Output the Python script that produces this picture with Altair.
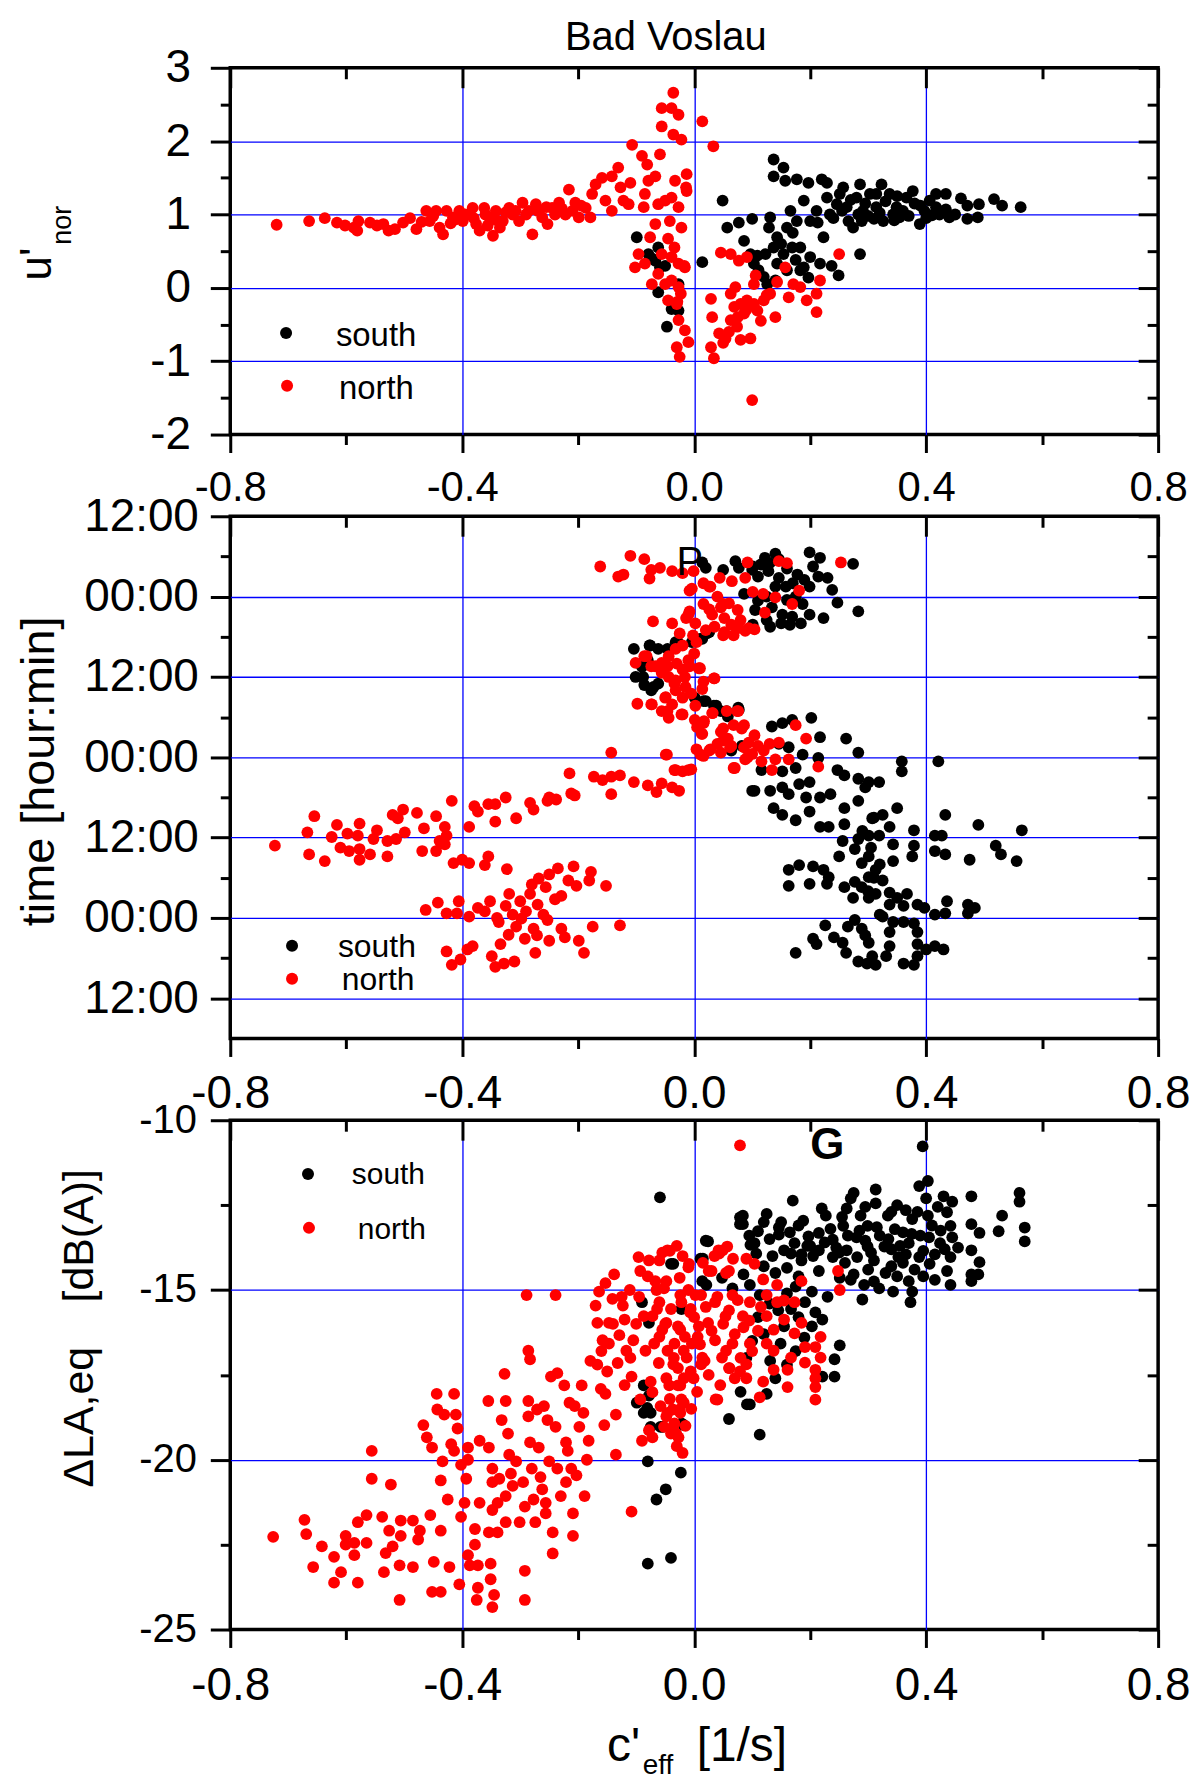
import altair as alt
import pandas as pd

FONT = "Liberation Sans"
BLUE = "#0000ff"

# ---------------- data ----------------
# panel 1: u'_nor vs c'_eff
p1_south = [(-0.099,0.69),(-0.079,0.46),(-0.067,0.37),(-0.062,0.55),(-0.059,0.28),(-0.062,-0.06),(-0.039,-0.29),(-0.027,-0.31),(-0.047,-0.53),(-0.027,0.05),(-0.073,0.40),(-0.050,0.30),
(0.014,0.35),(0.049,1.19),(0.057,0.82),(0.077,0.89),(0.100,0.94),(0.086,0.64),(0.097,0.46),(0.103,0.33),(0.111,0.24),(0.126,0.05),(0.137,1.75),(0.154,1.64),(0.137,1.52),(0.157,1.46),(0.177,1.48),(0.197,1.43),(0.220,1.48),(0.229,1.43),(0.131,0.96),(0.129,0.82),(0.143,0.69),(0.137,0.55),(0.143,0.33),(0.154,0.46),(0.160,0.82),(0.166,1.05),(0.177,0.91),(0.169,0.55),(0.183,0.24),(0.197,0.14),(0.200,0.42),(0.217,0.33),(0.237,0.30),(0.249,0.17),(0.189,1.19),(0.200,0.91),(0.211,1.05),(0.229,1.23),(0.223,0.69),(0.234,1.00),(0.246,1.14),(0.257,1.37),(0.263,1.10),(0.274,0.82),(0.286,1.41),(0.280,1.23),(0.291,1.05),(0.303,1.28),(0.314,1.10),(0.323,1.41),(0.326,0.91),(0.337,1.28),(0.349,1.10),(0.354,0.96),(0.366,1.23),(0.377,1.32),(0.389,0.87),(0.397,1.05),(0.406,1.19),(0.417,1.28),(0.423,1.00),(0.434,1.28),(0.434,1.07),(0.440,0.96),(0.471,1.12),(0.471,0.94),(0.489,0.96),(0.491,1.14),(0.517,1.21),(0.531,1.12),(0.563,1.10),(0.286,0.46),(0.289,0.91),(0.266,0.91),(0.251,1.28),(0.314,1.28),(0.343,1.00),(0.417,1.10),(0.183,0.55),(0.160,0.24),(0.189,0.28),(0.123,0.46),(0.109,0.44),
(0.300,0.98),(0.320,1.02),(0.360,1.05),(0.380,1.15),(0.400,0.95),(0.270,1.20),(0.295,1.15),(0.330,1.18),(0.350,1.25),(0.390,1.12),(0.410,0.99),(0.450,1.00),(0.460,1.22),(0.240,0.95),(0.255,1.05),(0.345,0.92),(0.370,0.98),(0.310,0.94),(0.283,1.00),(0.213,0.89),(0.170,0.75),(0.150,0.60),(0.120,0.15),(0.140,0.10),(0.175,0.38)]

p1_north = [(-0.720,0.86),(-0.664,0.91),(-0.637,0.95),(-0.616,0.89),(-0.602,0.85),(-0.587,0.82),(-0.579,0.91),(-0.581,0.78),(-0.559,0.89),(-0.547,0.85),(-0.536,0.87),(-0.527,0.78),(-0.516,0.80),(-0.502,0.89),(-0.479,0.80),(-0.462,1.05),(-0.456,0.91),(-0.445,1.05),(-0.439,0.82),(-0.433,0.73),(-0.427,1.05),(-0.416,0.96),(-0.405,1.05),(-0.399,0.91),(-0.387,1.00),(-0.382,1.09),(-0.376,0.87),(-0.370,0.78),(-0.362,1.09),(-0.353,0.96),(-0.347,0.71),(-0.342,1.05),(-0.330,0.91),(-0.319,1.09),(-0.313,1.00),(-0.302,0.91),(-0.296,1.16),(-0.285,1.05),(-0.279,0.73),(-0.273,1.14),(-0.262,0.96),(-0.253,0.87),(-0.245,1.09),(-0.233,1.16),(-0.222,1.00),(-0.216,1.34),(-0.205,1.16),(-0.199,0.96),(-0.187,1.09),(-0.179,0.96),(-0.176,1.28),(-0.170,1.41),(-0.159,1.50),(-0.153,1.19),(-0.142,1.05),(-0.142,1.52),(-0.131,1.64),(-0.127,1.37),(-0.122,1.19),(-0.110,1.43),(-0.113,1.14),(-0.107,1.95),(-0.090,1.80),(-0.081,1.68),(-0.085,1.28),(-0.087,1.10),(-0.079,1.46),(-0.067,1.52),(-0.059,1.82),(-0.062,1.14),(-0.056,2.20),(-0.056,2.45),(-0.036,2.66),(-0.039,2.45),(-0.027,2.36),(-0.036,2.09),(-0.022,2.02),(-0.033,1.46),(-0.013,1.55),(-0.013,1.32),(-0.039,1.23),(-0.050,1.19),(-0.027,1.10),(-0.042,0.91),(-0.067,0.87),(-0.022,0.82),(-0.076,0.69),(-0.045,0.67),(-0.096,0.46),(-0.102,0.28),(-0.085,0.33),(-0.056,0.46),(-0.039,0.42),(-0.027,0.33),(-0.016,0.28),(-0.073,0.05),(-0.062,0.19),(-0.050,0.05),(-0.039,0.10),(-0.027,0.01),(-0.045,-0.17),(-0.030,-0.22),(-0.027,-0.44),(-0.016,-0.58),(-0.010,-0.74),(-0.030,-0.81),(-0.025,-0.94),(-0.023,-0.08),(-0.029,-0.19),(-0.017,0.30),(-0.034,0.55),(-0.014,1.37),
(-0.490,0.95),(-0.470,0.90),(-0.450,0.98),(-0.420,0.88),(-0.395,1.00),(-0.380,0.95),(-0.360,1.00),(-0.340,0.92),(-0.325,1.03),(-0.308,1.05),(-0.290,1.00),(-0.270,1.05),(-0.255,1.10),(-0.240,1.00),(-0.228,1.08),(-0.210,1.05),(-0.195,1.12),(-0.412,0.93),(-0.356,0.85),(-0.335,0.82),
(0.014,2.27),(0.033,1.93),(0.046,0.48),(0.063,0.46),(0.077,0.37),(0.091,0.42),(0.103,0.05),(0.106,0.17),(0.029,-0.15),(0.031,-0.40),(0.063,-0.08),(0.071,0.01),(0.069,-0.26),(0.080,-0.22),(0.091,-0.17),(0.086,-0.35),(0.103,-0.22),(0.109,-0.31),(0.120,-0.17),(0.131,-0.08),(0.140,-0.40),(0.143,0.08),(0.157,0.28),(0.163,-0.13),(0.171,0.05),(0.183,0.01),(0.194,-0.17),(0.211,-0.08),(0.217,0.10),(0.211,-0.33),(0.250,0.46),(0.043,-0.62),(0.054,-0.69),(0.029,-0.81),(0.034,-0.96),(0.080,-0.71),(0.097,-0.69),(0.063,-0.44),(0.074,-0.53),(0.100,-1.53),(0.090,-0.30),(0.075,-0.40),(0.060,-0.60),(0.115,-0.45),(0.125,-0.10),(0.050,-0.75)]

# panel 2: time (hours from the bottom edge) vs c'_eff
p2_south = [(0.014,71.1),(0.020,70.3),(0.050,70.0),(0.071,71.3),(0.077,70.3),(0.101,70.5),(0.122,71.8),(0.140,72.4),(0.146,71.6),(0.199,72.6),(0.217,71.8),(0.274,70.9),(0.178,69.3),(0.214,69.0),(0.110,69.0),(0.128,69.8),(0.146,68.8),(0.158,67.5),(0.199,67.5),(0.238,67.0),(0.247,65.1),(0.283,63.8),(0.086,66.4),(0.110,65.4),(0.134,64.4),(0.152,63.3),(0.169,63.0),(0.184,62.0),(0.199,63.3),(0.223,62.8),(0.131,61.5),(0.101,61.8),(0.187,64.9),(0.140,67.5),(0.026,60.7),(0.014,59.7),(-0.004,59.2),(-0.028,59.2),(-0.046,58.2),(-0.076,58.7),
(0.100,70.0),(0.115,70.8),(0.130,71.0),(0.160,70.2),(0.170,68.0),(0.190,68.5),(0.205,70.5),(0.230,68.8),(0.175,66.0),(0.160,65.5),(0.125,66.0),(0.105,64.0),(0.125,62.5),(0.150,62.0),(0.165,61.8),
(-0.104,58.2),(-0.077,58.7),(-0.062,58.2),(-0.032,59.2),(0.022,60.5),(0.010,59.7),(-0.101,54.0),(-0.086,52.8),(-0.074,52.0),(-0.062,53.0),(0.001,50.9),(0.016,50.4),(0.034,49.7),(0.046,48.9),(0.058,48.1),(0.076,49.4),(0.064,43.0),(0.082,43.7),(0.100,37.0),(-0.088,54.0),(-0.070,52.5),(0.020,50.4),(0.038,49.7),(0.056,48.9),(0.077,49.1),(-0.090,55.5),(-0.080,56.5),
(0.134,46.6),(0.152,47.1),(0.169,47.6),(0.202,47.9),(0.217,45.0),(0.146,44.0),(0.163,43.5),(0.187,42.4),(0.214,41.9),(0.262,44.8),(0.283,42.7),(0.358,41.4),(0.358,39.9),(0.421,41.4),(0.116,40.1),(0.152,39.9),(0.175,40.4),(0.199,38.3),(0.247,40.1),(0.259,39.3),(0.283,38.8),(0.301,38.3),(0.319,38.3),(0.104,37.0),(0.131,37.0),(0.152,37.5),(0.181,38.0),(0.163,36.5),(0.193,36.0),(0.217,36.0),(0.235,36.5),(0.137,34.4),(0.152,33.4),(0.175,32.6),(0.199,33.9),(0.217,31.6),(0.232,31.6),(0.259,34.4),(0.283,35.5),(0.259,32.0),(0.307,32.9),(0.325,33.4),(0.350,34.4),(0.337,31.6),(0.256,29.5),(0.283,29.8),(0.301,30.3),(0.319,30.3),(0.343,29.0),(0.379,31.1),(0.379,28.8),(0.415,30.3),(0.433,33.4),(0.427,30.3),(0.490,31.9),(0.565,31.1),(0.520,28.8),(0.529,27.5),(0.415,28.0),(0.433,27.5),(0.475,26.7),(0.556,26.5),(0.376,27.2),(0.343,26.5),(0.250,27.2),(0.277,28.3),(0.289,26.2),(0.301,27.2),(0.313,25.2),(0.163,25.2),(0.181,25.9),(0.205,25.7),(0.223,25.2),(0.232,24.1),(0.163,22.8),(0.199,23.1),(0.229,23.1),(0.259,22.6),(0.277,23.4),(0.289,22.6),(0.301,24.1),(0.325,23.6),(0.274,21.0),(0.301,21.0),(0.313,21.6),(0.337,21.8),(0.337,20.0),(0.367,21.6),(0.361,19.8),(0.385,20.0),(0.397,19.5),(0.415,18.5),(0.433,18.7),(0.436,20.5),(0.472,20.0),(0.484,19.5),(0.472,18.7),(0.325,18.2),(0.343,17.4),(0.361,17.4),(0.379,17.2),(0.337,15.9),(0.289,16.4),(0.295,15.4),(0.301,14.3),(0.265,16.7),(0.277,17.7),(0.226,16.9),(0.241,15.1),(0.256,14.3),(0.205,14.9),(0.211,14.1),(0.175,12.8),(0.262,12.8),(0.283,11.5),(0.298,11.2),(0.313,11.0),(0.307,12.3),(0.331,12.3),(0.337,13.8),(0.361,11.2),(0.379,11.0),(0.385,12.3),(0.385,14.1),(0.400,13.3),(0.415,13.8),(0.430,13.3),(0.385,15.9),
(0.295,37.5),(0.310,33.0),(0.290,31.0),(0.305,28.5),(0.320,26.0),(0.310,24.0),(0.300,22.0),(0.350,21.0),(0.320,18.5)]

p2_north = [(-0.162,70.5),(-0.131,69.0),(-0.122,69.3),(-0.110,72.1),(-0.086,71.6),(-0.074,70.0),(-0.059,70.3),(-0.077,68.7),(-0.038,69.8),(-0.020,69.5),(-0.008,66.9),(0.016,68.0),(0.028,67.5),(-0.008,63.8),(-0.014,62.8),(0.016,64.9),(0.031,63.3),(0.046,64.4),(0.052,62.8),(0.052,60.7),(0.064,61.8),(0.076,61.3),(0.094,61.3),(-0.071,62.3),(-0.038,62.0),(-0.002,60.2),(0.004,59.2),(-0.020,58.7),(-0.032,58.2),(-0.044,57.1),(-0.056,56.1),(-0.086,57.1),(-0.101,56.1),(-0.074,55.6),(-0.056,54.6),(-0.044,54.0),(-0.032,53.5),(-0.020,55.1),(-0.008,55.6),(0.010,55.3),(0.034,53.8),(0.016,53.3),(-0.032,52.0),(-0.050,50.9),(-0.038,49.9),(-0.020,50.9),(-0.098,50.0),(-0.074,49.9),(-0.056,48.9),(-0.044,47.9),(-0.020,48.4),(0.001,47.6),(0.016,47.1),(0.031,48.6),(0.013,45.5),(0.046,45.8),(0.058,44.8),(0.076,48.9),(0.082,46.3),(0.004,43.2),(0.016,42.2),(0.028,43.2),(0.046,42.7),(0.064,43.7),(0.088,41.7),(0.070,40.4),(0.094,44.2),
(-0.001,69.8),(-0.004,67.2),(0.026,67.5),(0.044,68.8),(0.065,68.3),(0.088,68.8),(0.092,71.1),(0.146,71.3),(0.160,71.0),(0.253,71.1),(0.101,66.7),(0.119,66.4),(0.140,65.9),(0.169,64.9),(0.181,66.9),(0.122,63.6),(0.104,61.1),(0.088,60.9),(0.068,60.2),(0.050,60.2),(0.026,64.1),(0.050,64.9),(-0.010,63.3),(0.002,62.0),(0.008,55.3),(0.035,53.8),(0.014,52.2),(0.002,49.7),(0.032,48.6),(0.017,47.4),(0.014,45.5),(0.056,48.9),(0.074,48.9),(0.050,46.3),(0.068,46.8),(0.086,46.8),(0.104,45.3),(0.050,44.5),(0.062,43.5),(0.086,43.5),(0.110,43.7),(0.130,44.0),(0.146,44.2),(0.175,46.8),(0.193,44.8),(0.092,42.0),(0.116,41.4),(0.140,41.7),(0.163,41.7),(0.134,40.1),(0.214,40.6),(0.068,40.4),(0.011,42.4),(0.026,43.0),(-0.049,42.4),(-0.034,40.1),(-0.010,40.1),(-0.082,57.1),(-0.067,55.6),(-0.046,55.6),(-0.016,54.0),(-0.034,53.0),(-0.049,51.0),(-0.073,49.9),(-0.046,48.9),(-0.022,48.4),
(0.040,66.0),(0.060,65.0),(0.075,64.0),(0.080,62.5),(0.035,61.5),(0.020,61.0),(-0.025,60.5),(0.000,57.5),(-0.010,56.5),(-0.030,56.0),(-0.015,52.5),(-0.005,51.5),(0.005,46.5),(0.040,44.0),(0.100,42.5),(0.120,43.0),
(-0.143,42.7),(-0.047,42.4),(-0.032,40.1),(-0.020,39.9),(-0.005,40.2),(-0.038,37.5),(-0.026,37.0),(-0.056,38.1),(-0.065,36.8),(-0.080,37.8),(-0.104,38.3),(-0.128,39.3),(-0.143,39.1),(-0.143,36.5),(-0.158,38.6),(-0.173,39.1),(-0.215,39.6),(-0.206,36.3),(-0.212,36.6),(-0.250,36.0),(-0.238,35.7),(-0.253,35.5),(-0.283,35.2),(-0.277,34.2),(-0.325,36.0),(-0.307,32.9),(-0.343,35.0),(-0.343,32.4),(-0.355,35.0),(-0.373,33.9),(-0.379,34.7),(-0.388,31.6),(-0.418,35.5),(-0.445,33.2),(-0.430,31.6),(-0.427,30.3),(-0.439,29.5),(-0.430,29.0),(-0.445,28.0),(-0.469,28.0),(-0.466,31.4),(-0.478,33.7),(-0.502,34.2),(-0.511,32.9),(-0.520,33.4),(-0.499,30.8),(-0.514,29.8),(-0.529,29.5),(-0.547,31.1),(-0.553,29.8),(-0.529,27.2),(-0.559,27.5),(-0.577,32.1),(-0.580,30.3),(-0.577,28.3),(-0.577,26.7),(-0.595,28.0),(-0.598,30.6),(-0.610,28.5),(-0.616,31.9),(-0.625,30.1),(-0.637,26.5),(-0.655,33.2),(-0.667,30.8),(-0.664,27.5),(-0.723,28.8),(-0.400,26.7),(-0.388,26.2),(-0.415,26.2),(-0.361,25.9),(-0.355,27.2),(-0.323,25.3),
(-0.463,19.2),(-0.442,20.3),(-0.427,18.7),(-0.406,20.5),(-0.409,18.7),(-0.388,18.2),(-0.373,19.5),(-0.361,19.0),(-0.352,20.5),(-0.337,17.4),(-0.325,19.8),(-0.319,21.6),(-0.313,18.5),(-0.298,17.9),(-0.292,14.9),(-0.283,21.6),(-0.277,16.4),(-0.271,15.4),(-0.268,23.9),(-0.256,22.6),(-0.253,17.7),(-0.250,14.6),(-0.235,25.4),(-0.229,21.3),(-0.217,23.6),(-0.208,25.7),(-0.203,22.8),(-0.229,16.4),(-0.223,15.1),(-0.199,14.6),(-0.190,12.8),(-0.178,24.9),(-0.181,23.6),(-0.152,22.8),(-0.175,16.7),(-0.128,16.9),(-0.427,13.0),(-0.418,11.0),(-0.403,11.8),(-0.391,13.3),(-0.382,13.8),(-0.349,12.3),(-0.343,10.7),(-0.328,11.2),(-0.310,11.5),(-0.334,14.1),(-0.274,12.8),(-0.307,16.7),
(-0.300,20.5),(-0.290,19.0),(-0.270,20.0),(-0.260,18.5),(-0.240,20.8),(-0.280,23.0),(-0.250,24.5),(-0.340,18.0),(-0.320,15.5)]

# panel 3: Delta LA,eq vs c'_eff
p3_south = [(-0.059,-12.27),(-0.080,-20.05),(-0.023,-20.38),(-0.049,-20.87),(-0.065,-21.17),(-0.080,-23.06),(-0.040,-22.89),(0.020,-13.55),(0.011,-14.08),(-0.040,-14.23),(0.079,-12.86),(0.079,-13.06),(-0.090,-15.36),(-0.078,-15.97),(-0.087,-17.81),(-0.081,-18.47),(-0.087,-18.62),(-0.075,-19.03),(-0.058,-19.03),(-0.022,-18.93),(0.091,-18.37),(0.097,-13.67),(0.014,-14.74),(-0.022,-15.56),(-0.099,-18.32),(0.085,-14.54),
(0.394,-10.77),(0.403,-11.79),(0.388,-11.94),(0.275,-12.14),(0.313,-12.04),(0.313,-12.45),(0.263,-12.60),(0.170,-12.37),(0.084,-12.81),(0.084,-13.06),(0.125,-12.76),(0.110,-13.27),(0.024,-13.57),(0.015,-14.08),(-0.036,-14.23),(0.188,-12.96),(0.146,-13.16),(0.146,-13.37),(0.104,-13.62),(0.107,-13.93),(0.155,-13.83),(0.173,-13.62),(0.197,-13.42),(0.227,-12.81),(0.215,-13.32),(0.239,-13.52),(0.257,-13.11),(0.287,-12.81),(0.299,-13.11),(0.334,-12.81),(0.346,-13.21),(0.376,-12.91),(0.403,-12.81),(0.430,-12.24),(0.436,-12.71),(0.442,-13.11),(0.478,-12.24),(0.478,-13.06),(0.492,-13.32),(0.531,-12.81),(0.525,-13.27),(0.561,-12.14),(0.561,-12.40),(0.570,-13.16),(0.570,-13.57),(0.167,-13.93),(0.185,-14.13),(0.215,-13.83),(0.239,-14.03),(0.263,-13.83),(0.281,-14.03),(0.299,-13.72),(0.310,-14.13),(0.328,-13.72),(0.352,-14.03),(0.370,-13.62),(0.388,-14.03),(0.406,-14.23),(0.424,-13.62),(0.442,-14.03),(0.436,-14.44),(0.442,-14.85),(0.478,-13.83),(0.492,-14.18),(0.478,-14.54),(0.490,-14.54),(0.478,-14.74),(0.215,-14.44),(0.251,-14.64),(0.275,-14.54),(0.293,-14.85),(0.319,-14.95),(0.343,-15.05),(0.370,-14.74),(0.376,-15.05),(0.373,-15.36),(0.290,-15.28),(0.203,-15.05),(0.191,-15.36),(0.209,-15.66),(0.221,-15.87),(0.203,-16.07),(0.167,-15.56),(0.155,-16.07),(0.149,-16.58),(0.131,-17.09),(0.251,-16.63),(0.242,-17.04),(0.242,-17.55),(0.221,-17.55),(0.125,-18.06),(0.096,-18.37),(0.113,-19.26),(0.113,-15.15),(0.096,-14.85),(0.066,-14.95),(0.048,-14.64),(0.021,-14.85),(-0.075,-18.62),(-0.054,-19.03),(-0.018,-18.98),(-0.078,-18.11),
(0.320,-13.40),(0.280,-13.45),(0.250,-13.90),(0.340,-13.80),(0.360,-13.30),(0.390,-13.40),(0.410,-13.10),(0.300,-14.40),(0.330,-14.50),(0.260,-14.20),(0.350,-14.60),(0.395,-14.60),(0.415,-14.70),(0.200,-13.70),(0.180,-14.60),(0.230,-15.20),(0.160,-15.10),(0.140,-14.50),(0.120,-14.30),(0.130,-15.40),(0.270,-12.30),(0.220,-12.60),(0.350,-12.50),(0.400,-12.30),
(0.150,-13.00),(0.165,-13.30),(0.180,-13.10),(0.195,-13.70),(0.205,-14.00),(0.225,-13.60),(0.235,-13.20),(0.245,-13.75),(0.265,-13.40),(0.285,-13.25),(0.295,-13.55),(0.305,-13.90),(0.315,-13.15),(0.335,-13.50),(0.355,-13.70),(0.365,-13.95),(0.375,-13.35),(0.385,-12.70),(0.395,-13.85),(0.405,-13.45),(0.415,-13.95),(0.425,-13.25),(0.432,-13.80),(0.445,-13.45),(0.455,-13.75),(0.270,-14.70),(0.310,-14.75),(0.340,-14.30),(0.360,-14.20),(0.380,-14.40),(0.255,-12.85),(0.295,-12.55),(0.340,-12.70),(0.365,-12.65),(0.420,-12.55),(0.445,-12.40),(0.185,-13.95),(0.130,-13.50),(0.120,-13.00),(0.095,-13.40),(0.135,-14.00),(0.160,-14.35),(0.175,-14.90),(0.145,-15.60),(0.180,-15.80),(0.190,-16.40),(0.175,-16.80),(0.160,-17.20),(0.140,-17.60),(0.120,-16.30),(0.110,-15.80),(0.100,-16.50),(0.090,-17.00),(0.080,-18.00),(0.060,-18.80)]

p3_north = [(-0.726,-22.27),(-0.672,-21.77),(-0.669,-22.19),(-0.657,-23.16),(-0.642,-22.55),(-0.621,-22.86),(-0.621,-23.62),(-0.609,-23.31),(-0.601,-22.50),(-0.601,-22.24),(-0.586,-22.45),(-0.586,-22.81),(-0.580,-23.62),(-0.580,-21.84),(-0.565,-21.63),(-0.565,-22.45),(-0.556,-19.74),(-0.556,-20.56),(-0.538,-21.68),(-0.532,-22.75),(-0.535,-23.31),(-0.526,-22.09),(-0.523,-20.73),(-0.520,-22.55),(-0.508,-23.11),(-0.506,-21.79),(-0.506,-22.24),(-0.508,-24.13),(-0.485,-23.16),(-0.485,-21.79),(-0.473,-22.09),(-0.476,-22.35),(-0.467,-18.98),(-0.461,-19.34),(-0.455,-21.63),(-0.452,-19.64),(-0.449,-23.01),(-0.452,-23.89),(-0.444,-18.06),(-0.443,-18.52),(-0.437,-22.09),(-0.437,-23.89),(-0.434,-20.05),(-0.437,-20.61),(-0.431,-18.67),(-0.425,-21.17),(-0.422,-23.16),(-0.419,-19.54),(-0.414,-18.06),(-0.414,-19.74),(-0.411,-18.67),(-0.408,-19.08),(-0.405,-23.67),(-0.402,-20.15),(-0.402,-21.68),(-0.396,-21.27),(-0.393,-20.56),(-0.390,-20.00),(-0.390,-22.81),(-0.387,-23.11),(-0.390,-19.64),(-0.378,-22.50),(-0.378,-22.04),(-0.375,-24.13),(-0.373,-23.77),(-0.370,-19.44),(-0.370,-21.27),(-0.373,-23.11),(-0.355,-18.27),(-0.354,-19.64),(-0.354,-22.14),(-0.348,-20.26),(-0.351,-23.06),(-0.348,-20.66),(-0.348,-21.48),(-0.351,-23.52),(-0.348,-24.34),(-0.345,-23.98),(-0.339,-22.14),(-0.339,-21.27),(-0.336,-20.56),(-0.332,-18.83),(-0.327,-17.47),(-0.325,-18.27),(-0.325,-21.84),(-0.325,-21.07),(-0.321,-19.23),(-0.319,-19.85),(-0.316,-20.41),(-0.313,-20.77),(-0.307,-20.05),(-0.301,-21.84),(-0.295,-20.66),(-0.292,-23.27),(-0.292,-24.13),(-0.292,-21.38),(-0.289,-15.15),(-0.286,-16.79),(-0.283,-17.04),(-0.286,-18.27),(-0.286,-18.72),(-0.283,-19.49),(-0.280,-20.26),(-0.277,-21.17),(-0.274,-21.84),(-0.271,-18.52),(-0.268,-19.64),(-0.265,-20.51),(-0.262,-20.87),(-0.259,-18.42),(-0.256,-21.27),(-0.256,-21.58),(-0.253,-18.83),(-0.250,-20.05),(-0.247,-17.55),(-0.244,-22.14),(-0.244,-22.76),(-0.239,-15.15),(-0.239,-19.03),(-0.236,-17.45),(-0.236,-20.26),(-0.230,-21.07),(-0.224,-17.81),(-0.221,-19.49),(-0.221,-20.66),(-0.218,-19.74),(-0.215,-18.32),(-0.212,-20.26),(-0.209,-21.58),(-0.209,-22.24),(-0.206,-18.42),(-0.203,-20.46),(-0.198,-19.03),(-0.194,-17.81),(-0.191,-18.62),(-0.189,-21.07),(-0.185,-20.00),(-0.182,-19.44),(-0.179,-17.09),(-0.170,-15.46),(-0.167,-15.97),(-0.167,-17.20),(-0.164,-15.05),(-0.161,-17.91),(-0.158,-16.48),(-0.155,-18.98),(-0.153,-18.06),(-0.153,-14.80),(-0.147,-15.97),(-0.147,-16.58),(-0.141,-15.26),(-0.138,-14.54),(-0.135,-18.67),(-0.135,-19.85),(-0.132,-17.15),(-0.129,-16.33),(-0.123,-15.46),(-0.120,-15.87),(-0.117,-16.79),(-0.111,-15.00),(-0.108,-21.53),(-0.108,-17.55),(-0.105,-16.48),(-0.096,-14.03),(-0.093,-14.44),(-0.093,-18.22),(-0.090,-19.44),(-0.087,-15.77),(-0.084,-16.79),(-0.078,-14.13),(-0.078,-19.13),(-0.075,-17.70),(-0.069,-16.58),(-0.067,-14.74),(-0.064,-15.56),(-0.061,-17.15),(-0.058,-18.42),(-0.055,-16.17),(-0.052,-14.95),(-0.052,-19.03),(-0.046,-13.83),(-0.046,-16.79),(-0.043,-17.81),(-0.040,-15.56),(-0.037,-18.52),(-0.034,-16.58),(-0.031,-19.23),(-0.028,-16.07),(-0.028,-17.30),(-0.025,-14.64),(-0.022,-15.36),(-0.022,-18.22),(-0.016,-16.38),(-0.013,-16.99),(-0.010,-14.33),(-0.007,-15.66),(-0.004,-16.58),(-0.001,-17.60),(0.002,-15.15),(0.008,-16.07),(0.014,-16.99),(0.025,-14.44),(0.037,-18.22),(0.043,-13.93),(0.049,-13.83),(0.055,-16.79),(0.061,-17.30),(0.067,-14.08),(0.079,-10.74),(0.079,-17.40),
(-0.042,-13.85),(-0.060,-14.13),(-0.009,-14.23),(0.030,-14.44),(0.042,-13.83),(0.057,-13.72),(0.060,-14.44),(0.090,-14.08),(0.104,-14.23),(0.119,-14.69),(0.143,-14.85),(0.125,-15.15),(0.143,-15.36),(0.155,-15.31),(0.173,-15.36),(0.185,-14.74),(0.248,-14.44),(0.251,-15.00),(0.125,-15.77),(0.155,-15.87),(0.185,-15.97),(0.137,-16.17),(0.173,-16.28),(0.218,-16.38),(0.125,-16.58),(0.191,-16.68),(0.209,-16.68),(0.218,-16.99),(0.137,-16.79),(0.167,-16.99),(0.191,-17.14),(0.161,-17.35),(0.209,-17.35),(0.137,-17.35),(0.209,-17.60),(0.209,-17.86),(0.161,-17.86),(0.119,-17.70),(0.113,-18.16),(0.209,-18.23),(0.040,-18.23),(0.090,-17.60),(0.090,-17.19),(0.060,-17.30),(0.048,-16.99),(0.018,-17.09),(0.096,-16.58),(0.066,-16.58),(0.036,-16.48),(0.024,-15.97),(0.054,-15.77),(0.084,-15.77),(0.096,-15.36),(0.066,-15.15),(0.036,-15.36),(0.012,-15.15),(-0.006,-15.56),(-0.024,-15.15),(-0.048,-14.74),(-0.060,-15.36),(-0.072,-15.77),(-0.048,-15.97),(-0.024,-16.17),(0.006,-16.38),(-0.018,-16.79),(-0.036,-17.19),(-0.048,-17.60),(-0.024,-17.81),(-0.042,-18.21),(-0.024,-18.62),(-0.036,-19.03),(-0.027,-19.34),(-0.072,-18.01),(-0.072,-19.34),(-0.018,-17.60),(-0.018,-18.32),(-0.048,-18.72),(-0.060,-16.38),(-0.006,-17.40),(0.012,-17.19),
(-0.046,-18.62),(-0.040,-19.23),(-0.034,-18.93),(-0.025,-18.52),(-0.028,-17.81),
(-0.010,-15.00),(0.000,-15.80),(0.010,-16.60),(0.020,-15.50),(0.030,-16.20),(0.040,-15.20),(0.050,-16.00),(0.060,-15.60),(0.070,-16.30),(0.075,-15.30),(0.085,-16.10),(0.095,-15.90),(0.100,-16.80),(0.110,-16.20),(0.115,-15.50),(0.080,-17.00),(0.070,-17.60),(0.045,-17.80),(0.025,-17.50),(0.005,-18.00),(-0.005,-18.50),(-0.015,-19.00),(-0.030,-19.60),(-0.020,-19.80),(-0.035,-17.00),(-0.050,-16.00),(-0.065,-15.00),(-0.080,-14.60),(-0.095,-15.20),(-0.100,-16.00),(-0.110,-17.00),(-0.120,-17.80),(-0.125,-15.20),(-0.140,-16.00),(-0.150,-17.40),(-0.160,-16.80),(-0.020,-14.00),(0.015,-14.20),(0.035,-14.00),(0.055,-14.50),(-0.055,-13.90),(-0.030,-13.70)]

# axis ticks
x_major = [-0.8, -0.4, 0.0, 0.4, 0.8]
x_minor = [-0.6, -0.2, 0.2, 0.6]
x_grid = [-0.4, 0.0, 0.4]
y1_major = [-2, -1, 0, 1, 2, 3]
y1_minor = [-1.5, -0.5, 0.5, 1.5, 2.5]
y1_grid = [-1, 0, 1, 2]
y2_major = [6, 18, 30, 42, 54, 66, 78]
y2_minor = [12, 24, 36, 48, 60, 72]
y2_grid = [6, 18, 30, 42, 54, 66]
y3_major = [-25, -20, -15, -10]
y3_minor = [-22.5, -17.5, -12.5]
y3_grid = [-20, -15]

W = 931
H1, H2, H3 = 368, 524, 511
DOT = 140

one = pd.DataFrame({"k": [0]})
MINUS = "replace(format(datum.value, '{f}'), '\u2212', '-')"


def txt(text, x, y, size, angle=0, align="left", baseline="alphabetic", bold=False):
    kw = dict(text=text, font=FONT, fontSize=size, color="black", align=align, baseline=baseline)
    if angle:
        kw["angle"] = angle
    if bold:
        kw["fontWeight"] = "bold"
    return alt.Chart(one).mark_text(**kw).encode(x=alt.value(x), y=alt.value(y))


def dot(x, y, color, size=145):
    return alt.Chart(one).mark_circle(size=size, color=color, opacity=1).encode(x=alt.value(x), y=alt.value(y))


def panel(south, north, H, ydom, y_major, y_minor, y_grid, xlab, ylab, ylab_expr, extras):
    sdf = pd.DataFrame(south, columns=["x", "y"])
    ndf = pd.DataFrame(north, columns=["x", "y"])
    xs = alt.Scale(domain=[-0.8, 0.8], nice=False, zero=False)
    ys = alt.Scale(domain=ydom, nice=False, zero=False)

    def enc(ch, xa, ya):
        return ch.encode(x=alt.X("x:Q", scale=xs, axis=xa),
                         y=alt.Y("y:Q", scale=ys, axis=ya))

    def tk(orient, values, size, offset=0):
        return alt.Axis(orient=orient, values=values, tickSize=size, tickWidth=3,
                        tickColor="black", ticks=True, labels=False, domain=False,
                        grid=False, title=None, offset=offset)

    def gr(orient, values):
        return alt.Axis(orient=orient, values=values, grid=True, gridColor=BLUE,
                        gridWidth=1.3, gridOpacity=1, ticks=False, labels=False,
                        domain=False, title=None)

    ghost = alt.Chart(sdf).mark_circle(opacity=0, size=1)
    grid_l = enc(ghost, gr("bottom", x_grid), gr("left", y_grid))
    minor_l = enc(ghost, tk("bottom", x_minor, 10), tk("left", y_minor, 10))
    top_major = enc(ghost, tk("bottom", x_major, 20, -H), tk("left", y_major, 20, -W))
    top_minor = enc(ghost, tk("bottom", x_minor, 11, -H), tk("left", y_minor, 11, -W))

    xa = alt.Axis(orient="bottom", values=x_major, tickSize=18, tickWidth=3, tickColor="black",
                  domain=False, grid=False, labelFont=FONT, labelFontSize=xlab[0],
                  labelColor="black", labelPadding=xlab[1], labelFlush=False,
                  labelOverlap=False, labelExpr=MINUS.format(f=".1f"), title=None)
    ya = alt.Axis(orient="left", values=y_major, tickSize=20, tickWidth=3, tickColor="black",
                  domain=False, grid=False, labelFont=FONT, labelFontSize=ylab[0],
                  labelColor="black", labelPadding=ylab[1], labelFlush=False,
                  labelOverlap=False, labelExpr=ylab_expr, title=None)
    south_l = enc(alt.Chart(sdf).mark_circle(size=DOT, color="black", opacity=1), xa, ya)
    north_l = enc(alt.Chart(ndf).mark_circle(size=DOT, color="red", opacity=1), None, None)

    layers = [grid_l, minor_l, top_major, top_minor, south_l, north_l] + extras
    return alt.layer(*layers).resolve_axis(x="independent", y="independent").properties(width=W, height=H)


p1_extras = [
    txt("Bad Voslau", 437, -18, 40, align="center"),
    txt("u'", -180, 197, 44, angle=270, align="center"),
    txt("nor", -160, 158, 27, angle=270, align="center"),
    dot(56, 266, "black"), txt("south", 106, 279, 33),
    dot(57, 319, "red"), txt("north", 109, 332, 33),
]
p2_extras = [
    txt("time [hour:min]", -177, 256, 47, angle=270, align="center"),
    txt("P", 461, 47, 40, align="center", baseline="middle"),
    dot(62, 431, "black"), txt("south", 108, 442, 32),
    dot(62, 464, "red"), txt("north", 112, 475, 32),
]
p3_extras = [
    txt("[dB(A)]", -138, 116, 43, angle=270, align="center"),
    txt("\u0394LA,eq", -138, 298, 43, angle=270, align="center"),
    txt("G", 599, 26, 44, align="center", baseline="middle", bold=True),
    dot(78, 54, "black"), txt("south", 122, 64, 30),
    dot(79, 108, "red"), txt("north", 128, 119, 30),
    txt("c'", 378, 643, 48),
    txt("eff", 414, 656, 28),
    txt("[1/s]", 468, 643, 48),
]

p1 = panel(p1_south, p1_north, H1, [-2, 3], y1_major, y1_minor, y1_grid, (42, 15), (46, 20),
           MINUS.format(f="d"), p1_extras)
p2 = panel(p2_south, p2_north, H2, [0, 78], y2_major, y2_minor, y2_grid, (46, 15), (46, 12),
           "(datum.value - 6) % 24 == 0 ? '12:00' : '00:00'", p2_extras)
p3 = panel(p3_south, p3_north, H3, [-25, -10], y3_major, y3_minor, y3_grid, (46, 16), (40, 14),
           MINUS.format(f="d"), p3_extras)

chart = (
    alt.vconcat(p1, p2, p3, spacing=82, bounds="flush")
    .properties(padding={"left": 6, "top": 5, "right": 0, "bottom": -5})
    .configure(font=FONT, background="white")
    .configure_view(stroke="black", strokeWidth=3.5)
)

chart.save("out.html", embed_options={"renderer": "svg", "actions": False})
